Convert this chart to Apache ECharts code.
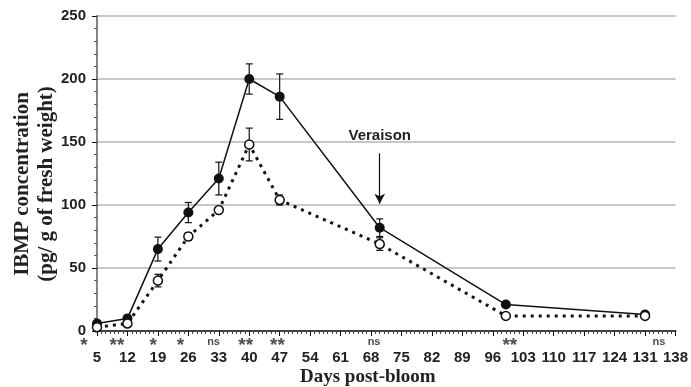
<!DOCTYPE html>
<html>
<head>
<meta charset="utf-8">
<script src="https://cdn.jsdelivr.net/npm/echarts@6/dist/echarts.min.js"></script>
<style>
html, body { margin: 0; padding: 0; background: #fff; }
#chart { width: 691px; height: 387px; }
</style>
</head>
<body>
<div id="chart"></div>
<script>
// sampling days (post-bloom)
const days = [5, 12, 19, 26, 33, 40, 47, 70, 99, 131]
// filled circles, solid line
const filledVals = [6, 10, 65, 94, 121, 200, 186, 82, 21, 13]
const filledErr = [2, 2, 9.5, 8, 13, 12, 18, 7, 2, 2]
// open circles, dotted line
const openVals = [3, 6, 40, 75, 96, 148, 104, 69, 12, 12]
const openErr = [1, 1, 5, 3, 2, 13, 4, 5, 1, 1]
// significance marks under the axis
const sigDays = [2, 9.6, 17.9, 24.2, 31.8, 39.2, 46.5, 68.7, 99.9, 134.2]
const sigMarks = ['*', '**', '*', '*', 'ns', '**', '**', 'ns', '**', 'ns']
// veraison arrow (day, from, to)
const veraison = [70, 141, 101]

// axis ticks start at 5 -> shift everything so the min is 0
const X0 = 5
const xMin = 0
const xMax = 133
const xStep = 7

const chart = echarts.init(document.getElementById('chart'))

const toPts = (vals) => vals.map((v, i) => [days[i] - X0, v])
const toErr = (vals, err) => vals.map((v, i) => [days[i] - X0, v - err[i], v + err[i]])

function errorBars (params, api) {
  const x = api.value(0)
  const lo = api.coord([x, api.value(1)])
  const hi = api.coord([x, api.value(2)])
  const w = 3.5
  const style = { stroke: '#111', lineWidth: 1.2 }
  return {
    type: 'group',
    children: [
      { type: 'line', shape: { x1: lo[0], y1: lo[1], x2: hi[0], y2: hi[1] }, style },
      { type: 'line', shape: { x1: hi[0] - w, y1: hi[1], x2: hi[0] + w, y2: hi[1] }, style },
      { type: 'line', shape: { x1: lo[0] - w, y1: lo[1], x2: lo[0] + w, y2: lo[1] }, style }
    ]
  }
}

const labelFont = 'Liberation Sans, Arial, sans-serif'
const titleFont = 'Liberation Serif, Times New Roman, serif'

const option = {
  backgroundColor: '#fff',
  animation: false,
  grid: { left: 97, right: 13, top: 16, bottom: 56 },
  xAxis: [{
    type: 'value',
    min: xMin,
    max: xMax,
    interval: xStep,
    axisLine: { lineStyle: { color: '#111', width: 1.5 } },
    axisTick: { length: 5, lineStyle: { color: '#111' } },
    minorTick: { show: true, splitNumber: 7, length: 3, lineStyle: { color: '#444' } },
    splitLine: { show: false },
    axisLabel: {
      margin: 19,
      fontSize: 15,
      fontWeight: 'bold',
      fontFamily: labelFont,
      color: '#222',
      formatter: (v) => v + X0
    }
  }, {
    type: 'value',
    position: 'top',
    min: xMin,
    max: xMax,
    axisLine: { lineStyle: { color: '#444', width: 2 } },
    axisTick: { show: false },
    axisLabel: { show: false },
    splitLine: { show: false }
  }],
  yAxis: [{
    type: 'value',
    min: 0,
    max: 250,
    interval: 50,
    axisLine: { show: true, lineStyle: { color: '#111', width: 1.5 } },
    axisTick: { show: true, length: 5, lineStyle: { color: '#111' } },
    minorTick: { show: true, splitNumber: 5, length: 3, lineStyle: { color: '#555' } },
    splitLine: { show: true, lineStyle: { color: '#b5b5b5', width: 1.5 } },
    axisLabel: {
      margin: 11,
      fontSize: 15,
      fontWeight: 'bold',
      fontFamily: labelFont,
      color: '#222'
    }
  }, {
    type: 'value',
    position: 'right',
    min: 0,
    max: 250,
    axisLine: { show: true, lineStyle: { color: '#999', width: 1.5 } },
    axisTick: { show: false },
    axisLabel: { show: false },
    splitLine: { show: false }
  }],
  graphic: [{
    type: 'text',
    left: 300,
    top: 368,
    style: {
      text: 'Days post-bloom',
      font: 'bold 19px ' + titleFont,
      fill: '#222'
    }
  }, {
    type: 'text',
    x: 35,
    y: 184,
    rotation: Math.PI / 2,
    style: {
      text: 'IBMP concentration\n(pg/ g of fresh weight)',
      font: 'bold 21px ' + titleFont,
      lineHeight: 24,
      fill: '#222',
      align: 'center',
      verticalAlign: 'middle'
    }
  }],
  series: [{
    name: 'filled err',
    type: 'custom',
    renderItem: errorBars,
    data: toErr(filledVals, filledErr),
    z: 3
  }, {
    name: 'open err',
    type: 'custom',
    renderItem: errorBars,
    data: toErr(openVals, openErr),
    z: 3
  }, {
    name: 'filled',
    type: 'line',
    data: toPts(filledVals),
    symbol: 'circle',
    symbolSize: 10,
    itemStyle: { color: '#111' },
    lineStyle: { color: '#111', width: 1.5 },
    z: 4,
    markLine: {
      silent: true,
      symbol: ['none', 'arrow'],
      symbolSize: [8, 10],
      lineStyle: { color: '#111', width: 1.2, type: 'solid' },
      label: {
        show: true,
        position: 'start',
        distance: 10,
        formatter: 'Veraison',
        fontSize: 15,
        fontWeight: 'bold',
        fontFamily: labelFont,
        color: '#222'
      },
      data: [[
        { coord: [veraison[0] - X0, veraison[1]] },
        { coord: [veraison[0] - X0, veraison[2]] }
      ]]
    }
  }, {
    name: 'open',
    type: 'line',
    data: toPts(openVals),
    symbol: 'circle',
    symbolSize: 9,
    itemStyle: { color: '#fff', borderColor: '#111', borderWidth: 1.5 },
    lineStyle: { color: '#111', width: 3, type: [3, 5] },
    z: 5
  }, {
    name: 'sig',
    type: 'scatter',
    clip: false,
    silent: true,
    symbolSize: 1,
    itemStyle: { color: 'rgba(0,0,0,0)' },
    data: sigDays.map((d, i) => [d - X0, 0, sigMarks[i]]),
    label: {
      show: true,
      position: 'bottom',
      distance: 5,
      formatter: (p) => p.data[2] === 'ns' ? '{n|ns}' : '{s|' + p.data[2] + '}',
      rich: {
        s: { fontSize: 19, fontWeight: 'bold', fontFamily: labelFont, color: '#222' },
        n: { fontSize: 11, fontWeight: 'bold', fontFamily: labelFont, color: '#222' }
      }
    }
  }]
}

chart.setOption(option)
window.addEventListener('resize', () => {
  chart.resize()
})
</script>
</body>
</html>
